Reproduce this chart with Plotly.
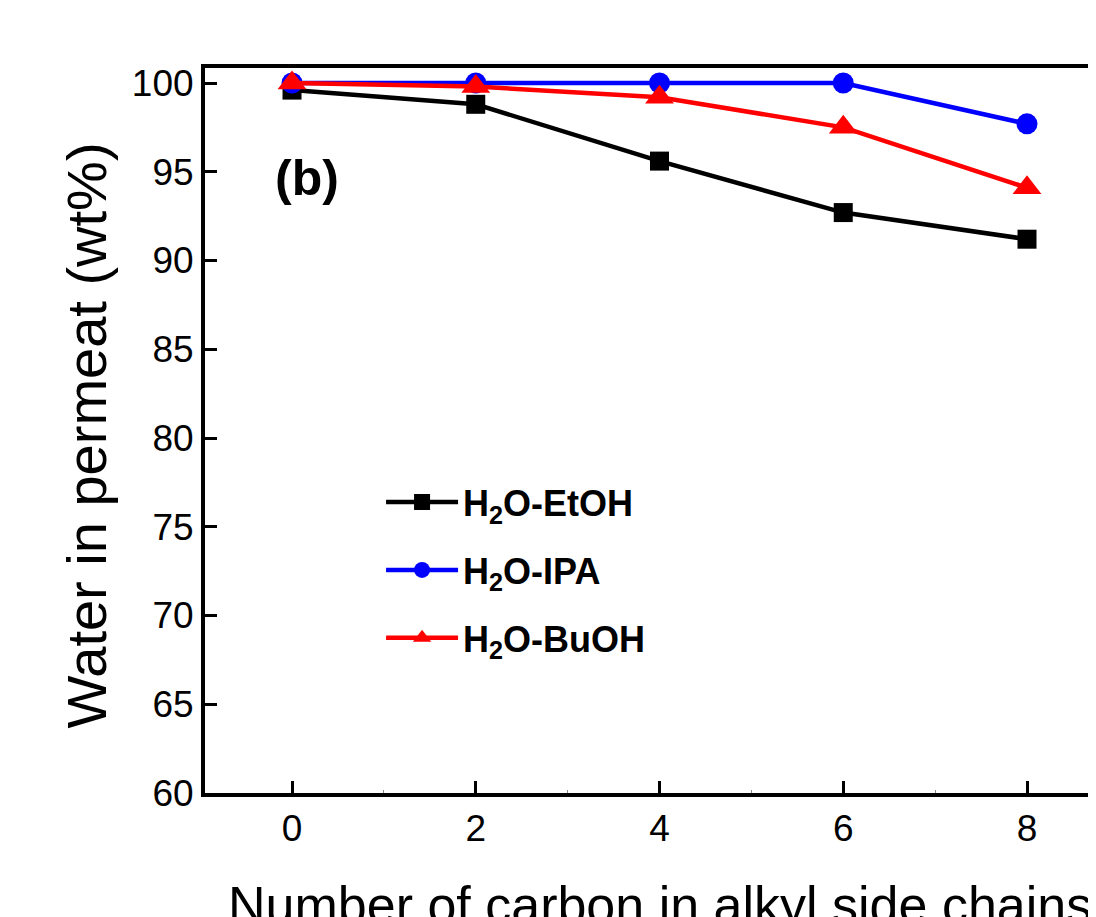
import plotly.graph_objects as go

carbon = [0, 2, 4, 6, 8]
etoh = [99.6, 98.8, 95.6, 92.7, 91.2]
ipa = [100.0, 100.0, 100.0, 100.0, 97.7]
buoh = [100.0, 99.8, 99.2, 97.5, 94.1]

names = ["<b>H<sub>2</sub>O-EtOH</b>", "<b>H<sub>2</sub>O-IPA</b>", "<b>H<sub>2</sub>O-BuOH</b>"]
series = [etoh, ipa, buoh]
colors = ["#000000", "#0000FF", "#FF0000"]
symbols = ["square", "circle", "triangle-up"]
sizes = [19, 21, 25]

FONT = "Arial, Liberation Sans, sans-serif"

fig = go.Figure()
for i in range(3):
    fig.add_trace(go.Scatter(
        x=carbon, y=series[i], name=names[i], mode="lines+markers",
        line=dict(color=colors[i], width=4.5),
        marker=dict(symbol=symbols[i], size=sizes[i], color=colors[i], line=dict(width=0)),
        legendgroup=str(i), cliponaxis=False,
    ))

fig.update_layout(
    width=1088, height=909,
    margin=dict(l=197, r=0, t=60, b=124),
    plot_bgcolor="white", paper_bgcolor="white",
    font=dict(family=FONT, color="black"),
    showlegend=True,
    legend=dict(
        x=0.1976, y=0.4425, xanchor="left", yanchor="top",
        font=dict(family=FONT, size=36, color="black"),
        bgcolor="rgba(0,0,0,0)", itemwidth=72, tracegroupgap=18,
    ),
)
fig.update_xaxes(
    range=[-0.947, 8.751], tickvals=[0, 2, 4, 6, 8],
    ticks="inside", ticklen=12, tickwidth=3, tickcolor="black",
    showline=True, linewidth=4, linecolor="black", mirror=True,
    showgrid=False, zeroline=False,
    tickfont=dict(family=FONT, size=37, color="black"),
    minor=dict(dtick=1, ticks="inside", ticklen=3, tickwidth=1, tickcolor="#888888"),
)
fig.update_yaxes(
    range=[60, 100.845], tickvals=[60, 65, 70, 75, 80, 85, 90, 95, 100],
    ticks="inside", ticklen=12, tickwidth=3, tickcolor="black",
    showline=True, linewidth=4, linecolor="black", mirror=False,
    showgrid=False, zeroline=False,
    tickfont=dict(family=FONT, size=37, color="black"),
)

fig.add_annotation(
    text="Water in permeat (wt%)", xref="paper", yref="paper", x=0, y=0.5,
    xshift=-119, yshift=-5, textangle=-90, showarrow=False,
    font=dict(family=FONT, size=56, color="black"), xanchor="center", yanchor="middle",
)
fig.add_annotation(
    text="Number of carbon in alkyl side chains", xref="paper", yref="paper",
    x=0.5107, y=0, yshift=-81, showarrow=False, xanchor="center", yanchor="top",
    font=dict(family=FONT, size=52, color="black"),
)
fig.add_annotation(
    text="<b>(b)</b>", xref="x", yref="y", x=0.163, y=94.65, showarrow=False,
    font=dict(family=FONT, size=50, color="black"), xanchor="center", yanchor="middle",
)

fig.write_html("out.html")
